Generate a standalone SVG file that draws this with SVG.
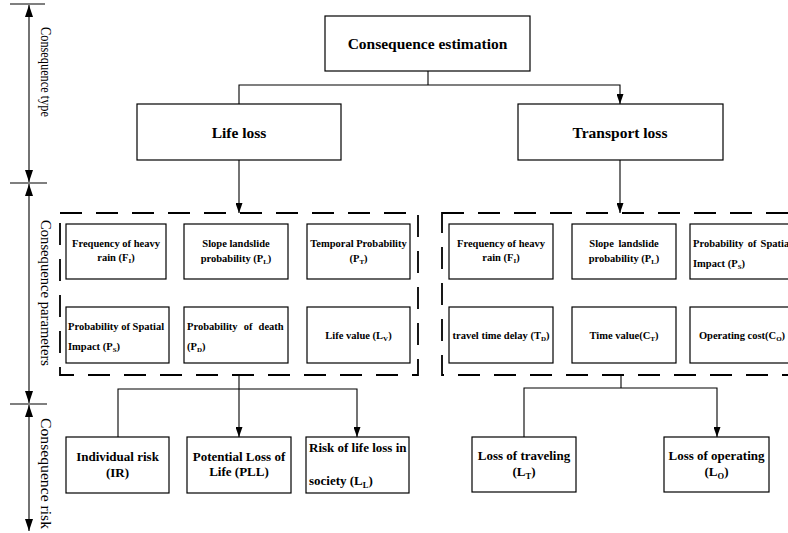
<svg xmlns="http://www.w3.org/2000/svg" width="788" height="533" viewBox="0 0 788 533">
<defs>
<marker id="ah" viewBox="0 0 10 7" refX="10" refY="3.5" markerWidth="10" markerHeight="7" markerUnits="userSpaceOnUse" orient="auto">
<path d="M0,0 L10,3.5 L0,7 z" fill="#000"/>
</marker>
<marker id="ax" viewBox="0 0 12 8" refX="12" refY="4" markerWidth="12" markerHeight="8" markerUnits="userSpaceOnUse" orient="auto-start-reverse">
<path d="M0,0 L12,4 L0,8 z" fill="#000"/>
</marker>
<style>
.box{fill:#fff;stroke:#000;stroke-width:1.2}
.dash{fill:none;stroke:#000;stroke-width:1.8;stroke-dasharray:22 14}
.con{fill:none;stroke:#000;stroke-width:1.1}
.axis{fill:none;stroke:#000;stroke-width:1.1}
.t1{font-family:"Liberation Serif","Times New Roman",serif;font-weight:bold;font-size:15.5px;text-anchor:middle}
.t2{font-family:"Liberation Serif","Times New Roman",serif;font-weight:bold;font-size:10.5px}
.t3{font-family:"Liberation Serif","Times New Roman",serif;font-weight:bold;font-size:13px}
.c{text-anchor:middle}
.ax{font-family:"Liberation Serif","Times New Roman",serif;font-size:14.5px;text-anchor:middle}
.s2{font-size:7px}
.s3{font-size:8.5px}
</style>
</defs>

<g id="axis">
<line class="axis" x1="10" y1="4" x2="45" y2="4"/>
<line class="axis" x1="10" y1="183" x2="47" y2="183"/>
<line class="axis" x1="10" y1="404" x2="47" y2="404"/>
<line class="axis" x1="29" y1="5" x2="29" y2="182" marker-start="url(#ax)" marker-end="url(#ax)"/>
<line class="axis" x1="29" y1="184" x2="29" y2="403" marker-start="url(#ax)" marker-end="url(#ax)"/>
<line class="axis" x1="29" y1="405" x2="29" y2="531" marker-start="url(#ax)" marker-end="url(#ax)"/>
<text class="ax" style="font-size:14px" transform="translate(41,72) rotate(90)" textLength="90" lengthAdjust="spacingAndGlyphs">Consequence type</text>
<text class="ax" transform="translate(41,293) rotate(90)" textLength="146" lengthAdjust="spacingAndGlyphs">Consequence parameters</text>
<text class="ax" transform="translate(41,473.5) rotate(90)" textLength="111" lengthAdjust="spacingAndGlyphs">Consequence risk</text>
</g>

<g id="connectors">
<polyline class="con" points="428,71 428,85"/>
<polyline class="con" points="239,104 239,85 620,85 620,104" marker-start="url(#ah)" marker-end="url(#ah)"/>
<line class="con" x1="239" y1="160" x2="239" y2="213" marker-end="url(#ah)"/>
<line class="con" x1="620" y1="160" x2="620" y2="213" marker-end="url(#ah)"/>
<line class="con" x1="239" y1="375" x2="239" y2="437" marker-end="url(#ah)"/>
<polyline class="con" points="118,437 118,389 357,389 357,437" marker-start="url(#ah)" marker-end="url(#ah)"/>
<line class="con" x1="621" y1="375" x2="621" y2="388"/>
<polyline class="con" points="524,437 524,388 717,388 717,437" marker-start="url(#ah)" marker-end="url(#ah)"/>
</g>

<g id="consequence-estimation">
<rect class="box" x="325" y="16" width="205" height="55"/>
<text class="t1" x="427.5" y="48.5">Consequence estimation</text>
</g>
<g id="life-loss">
<rect class="box" x="137" y="104" width="204" height="56"/>
<text class="t1" x="239" y="137.5">Life loss</text>
</g>
<g id="transport-loss">
<rect class="box" x="518" y="104" width="205" height="56"/>
<text class="t1" x="620" y="137.5">Transport loss</text>
</g>

<g id="life-parameters">
<rect class="dash" x="60" y="213" width="358" height="162"/>
</g>
<g id="transport-parameters">
<rect class="dash" x="442" y="213" width="370" height="162"/>
</g>

<g id="l-freq">
<rect class="box" x="66" y="224" width="100" height="55"/>
<text class="t2 c" x="116" y="247">Frequency of heavy</text>
<text class="t2 c" x="116" y="261">rain (F<tspan class="s2" dy="2">I</tspan><tspan dy="-2">)</tspan></text>
</g>
<g id="l-slope">
<rect class="box" x="184" y="224" width="104" height="55"/>
<text class="t2 c" x="236" y="247">Slope landslide</text>
<text class="t2 c" x="236" y="261.5">probability (P<tspan class="s2" dy="2">L</tspan><tspan dy="-2">)</tspan></text>
</g>
<g id="l-temporal">
<rect class="box" x="307" y="224" width="103" height="55"/>
<text class="t2 c" x="358.5" y="247">Temporal Probability</text>
<text class="t2 c" x="358.5" y="261.5">(P<tspan class="s2" dy="2">T</tspan><tspan dy="-2">)</tspan></text>
</g>
<g id="l-spatial">
<rect class="box" x="66" y="307" width="103" height="56"/>
<text class="t2" x="68" y="330">Probability of Spatial</text>
<text class="t2" x="68" y="350">Impact (P<tspan class="s2" dy="2">S</tspan><tspan dy="-2">)</tspan></text>
</g>
<g id="l-death">
<rect class="box" x="184" y="307" width="104" height="56"/>
<text class="t2" x="187" y="330" word-spacing="3.5">Probability of death</text>
<text class="t2" x="187" y="350">(P<tspan class="s2" dy="2">D</tspan><tspan dy="-2">)</tspan></text>
</g>
<g id="l-lifevalue">
<rect class="box" x="307" y="307" width="103" height="56"/>
<text class="t2 c" x="358.5" y="338.5">Life value (L<tspan class="s2" dy="2">V</tspan><tspan dy="-2">)</tspan></text>
</g>

<g id="t-freq">
<rect class="box" x="449" y="224" width="104" height="55"/>
<text class="t2 c" x="501" y="247">Frequency of heavy</text>
<text class="t2 c" x="501" y="261">rain (F<tspan class="s2" dy="2">I</tspan><tspan dy="-2">)</tspan></text>
</g>
<g id="t-slope">
<rect class="box" x="572" y="224" width="104" height="55"/>
<text class="t2 c" x="624" y="247" word-spacing="2">Slope landslide</text>
<text class="t2 c" x="624" y="261.5">probability (P<tspan class="s2" dy="2">L</tspan><tspan dy="-2">)</tspan></text>
</g>
<g id="t-spatial">
<rect class="box" x="690" y="224" width="104" height="55"/>
<text class="t2" x="693" y="246.5" word-spacing="1.5">Probability of Spatial</text>
<text class="t2" x="693" y="266.5">Impact (P<tspan class="s2" dy="2">S</tspan><tspan dy="-2">)</tspan></text>
</g>
<g id="t-delay">
<rect class="box" x="449" y="307" width="104" height="56"/>
<text class="t2 c" x="501" y="338.5">travel time delay (T<tspan class="s2" dy="2">D</tspan><tspan dy="-2">)</tspan></text>
</g>
<g id="t-timevalue">
<rect class="box" x="572" y="307" width="104" height="56"/>
<text class="t2 c" x="624" y="338.5">Time value(C<tspan class="s2" dy="2">T</tspan><tspan dy="-2">)</tspan></text>
</g>
<g id="t-operating">
<rect class="box" x="690" y="307" width="104" height="56"/>
<text class="t2 c" x="742" y="338.5">Operating cost(C<tspan class="s2" dy="2">O</tspan><tspan dy="-2">)</tspan></text>
</g>

<g id="individual-risk">
<rect class="box" x="66" y="437" width="103" height="56"/>
<text class="t3 c" x="117.5" y="461">Individual risk</text>
<text class="t3 c" x="117.5" y="476.5">(IR)</text>
</g>
<g id="pll">
<rect class="box" x="187" y="437" width="104" height="56"/>
<text class="t3 c" x="239" y="461">Potential Loss of</text>
<text class="t3 c" x="239" y="476">Life (PLL)</text>
</g>
<g id="societal-risk">
<rect class="box" x="306" y="437" width="103" height="56"/>
<text class="t3" x="309" y="452">Risk of life loss in</text>
<text class="t3" x="309" y="485">society (L<tspan class="s3" dy="2.5">L</tspan><tspan dy="-2.5">)</tspan></text>
</g>
<g id="loss-traveling">
<rect class="box" x="472" y="437" width="104" height="55"/>
<text class="t3 c" x="524" y="460">Loss of traveling</text>
<text class="t3 c" x="524" y="476">(L<tspan class="s3" dy="2.5">T</tspan><tspan dy="-2.5">)</tspan></text>
</g>
<g id="loss-operating">
<rect class="box" x="664" y="437" width="105" height="55"/>
<text class="t3 c" x="716.5" y="460">Loss of operating</text>
<text class="t3 c" x="716.5" y="476">(L<tspan class="s3" dy="2.5">O</tspan><tspan dy="-2.5">)</tspan></text>
</g>
</svg>
